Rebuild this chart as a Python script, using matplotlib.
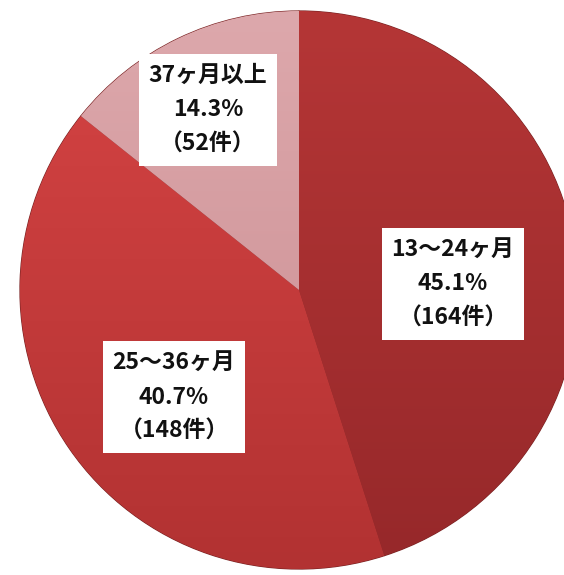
import numpy as np
import matplotlib.pyplot as plt
from matplotlib.colors import LinearSegmentedColormap

plt.rcParams['font.family'] = ['Noto Sans CJK JP', 'DejaVu Sans']

# データ
categories = ['13～24ヶ月', '25～36ヶ月', '37ヶ月以上']
percents = [45.1, 40.7, 14.3]
counts = [164, 148, 52]
# 各扇形のグラデーション (上, 下)
colors_top = ['#B53636', '#D64444', '#DDA8AC']
colors_bottom = ['#96282A', '#B23232', '#C98C90']

W, H = 564, 575
cx, cy, r = 299, H - 290, 279

fig = plt.figure(figsize=(W / 100, H / 100), dpi=100)
ax = fig.add_axes([0, 0, 1, 1])

wedges, _ = ax.pie(percents, startangle=90, counterclock=False,
                   center=(cx, cy), radius=r, frame=True,
                   wedgeprops=dict(edgecolor='#7A2424', linewidth=0.9))
ax.set_aspect('equal')
ax.axis('off')

grad = np.linspace(0, 1, 256).reshape(-1, 1)
for w, ct, cb in zip(wedges, colors_top, colors_bottom):
    w.set_facecolor(ct)
    cmap = LinearSegmentedColormap.from_list('g', [cb, ct])
    im = ax.imshow(grad, cmap=cmap, extent=(cx - r, cx + r, cy - r, cy + r),
                   origin='lower', aspect='auto', zorder=w.get_zorder() + 0.1)
    im.set_clip_path(w)

ax.set_xlim(0, W)
ax.set_ylim(0, H)

# ラベル位置 (ボックス中心)
label_pos = [(453, H - 284), (174, H - 397), (208, H - 110)]
for cat, p, n, (x, y) in zip(categories, percents, counts, label_pos):
    ax.text(x, y, f'{cat}\n{p}%\n（{n}件）', ha='center', va='center',
            fontsize=16.5, fontweight='bold', color='#111111',
            linespacing=1.65, zorder=10,
            bbox=dict(boxstyle='square,pad=0.42', fc='white', ec='none'))

fig.savefig('out.png', dpi=100)
